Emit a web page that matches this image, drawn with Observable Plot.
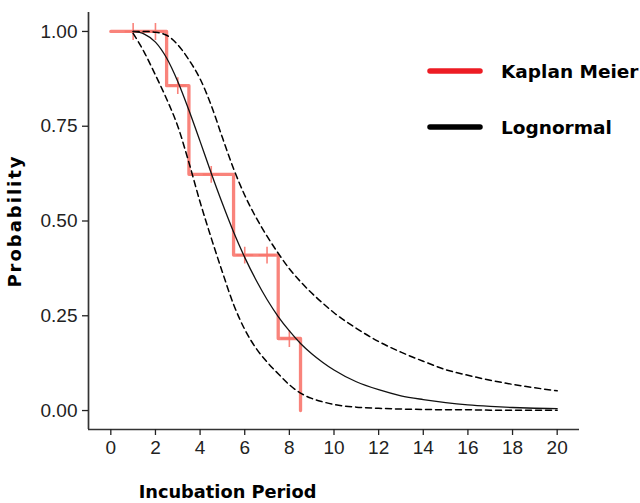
<!DOCTYPE html>
<html><head><meta charset="utf-8">
<script src="https://cdn.jsdelivr.net/npm/d3@7"></script>
<script src="https://cdn.jsdelivr.net/npm/@observablehq/plot@0.6"></script>
<style>
body{margin:0;background:#fff;}
#wrap{position:relative;width:640px;height:503px;}
#legend{position:absolute;left:0;top:0;pointer-events:none;}
.ylab text{letter-spacing:2px;}
</style></head><body><div id="wrap"></div>
<script>
// Kaplan–Meier estimate
const kmTime = [0, 2.5, 3.5, 5.5, 7.5, 8.5];
const kmSurv = [1, 0.857, 0.623, 0.41, 0.19, 0];
// censoring marks
const censorTime = [1, 2, 3, 4.5, 6, 7, 8];
const censorSurv = [1, 1, 0.857, 0.623, 0.41, 0.41, 0.19];
// Lognormal fit with confidence band
const fitTime  = [1, 1.5, 2, 2.5, 3, 3.5, 4, 4.5, 5, 5.5, 6, 6.5, 7, 7.5, 8, 8.5, 9, 9.5, 10, 11, 12, 13, 14, 15, 16, 17, 18, 19, 20];
const fitEst   = [1.000, 0.993, 0.972, 0.930, 0.868, 0.792, 0.710, 0.626, 0.546, 0.471, 0.404, 0.345, 0.293, 0.248, 0.210, 0.177, 0.150, 0.127, 0.107, 0.076, 0.055, 0.039, 0.029, 0.021, 0.015, 0.011, 0.008, 0.006, 0.005];
const fitUpper = [1.000, 1.000, 0.998, 0.990, 0.965, 0.925, 0.875, 0.805, 0.720, 0.638, 0.568, 0.510, 0.460, 0.415, 0.374, 0.340, 0.310, 0.283, 0.258, 0.217, 0.182, 0.154, 0.130, 0.108, 0.093, 0.080, 0.069, 0.060, 0.052];
const fitLower = [0.995, 0.945, 0.885, 0.822, 0.750, 0.654, 0.550, 0.455, 0.365, 0.280, 0.214, 0.165, 0.128, 0.097, 0.068, 0.046, 0.032, 0.023, 0.016, 0.009, 0.006, 0.004, 0.003, 0.002, 0.002, 0.001, 0.001, 0.001, 0.001];
// axes
const xTicks = [0, 2, 4, 6, 8, 10, 12, 14, 16, 18, 20];
const yTicks = [0, 0.25, 0.5, 0.75, 1];
const xDomain = [-1, 21];
const yDomain = [-0.05, 1.05];
const xLabel = "Incubation Period";
const yLabel = "Probability";
const legendLabels = ["Kaplan Meier", "Lognormal"];
const legendColors = ["#ED1C24", "#000000"];

const km = kmTime.map((t, i) => ({t, s: kmSurv[i]}));
const censor = censorTime.map((t, i) => ({t, s: censorSurv[i]}));
const fit = fitTime.map((t, i) => ({t, est: fitEst[i], upper: fitUpper[i], lower: fitLower[i]}));

const boldFont = "'DejaVu Sans', Verdana, sans-serif";
const kmColor = "#F8766D";

const chart = Plot.plot({
  width: 640, height: 503,
  marginTop: 12, marginBottom: 74, marginLeft: 88, marginRight: 61,
  style: {fontFamily: "'Liberation Sans', Arial, sans-serif", fontSize: "19px", background: "#fff", color: "#222", overflow: "visible"},
  x: {domain: xDomain},
  y: {domain: yDomain},
  marks: [
    Plot.line(km, {x: "t", y: "s", curve: "step-after", stroke: kmColor, strokeWidth: 3.3, strokeOpacity: 0.9}),
    Plot.dot(censor, {x: "t", y: "s", symbol: "plus", r: 5.5, stroke: kmColor, strokeWidth: 1.6, strokeOpacity: 0.9}),
    Plot.line(fit, {x: "t", y: "upper", curve: "monotone-x", stroke: "#000", strokeWidth: 1.5, strokeDasharray: "6,4"}),
    Plot.line(fit, {x: "t", y: "lower", curve: "monotone-x", stroke: "#000", strokeWidth: 1.5, strokeDasharray: "6,4"}),
    Plot.line(fit, {x: "t", y: "est", curve: "monotone-x", stroke: "#111", strokeWidth: 1.3}),
    Plot.ruleX([xDomain[0]], {stroke: "#333", strokeWidth: 1.7}),
    Plot.ruleY([yDomain[0]], {stroke: "#333", strokeWidth: 1.7}),
    Plot.axisX(xTicks, {tickSize: 6, tickPadding: 5, label: null, color: "#222", strokeWidth: 1.3, fontSize: 19}),
    Plot.axisY(yTicks, {tickSize: 6, tickPadding: 5, label: null, color: "#222", strokeWidth: 1.3, fontSize: 19, tickFormat: d3.format(".2f")}),
    Plot.text([xLabel], {text: d => d, frameAnchor: "bottom-left", dx: 139, dy: 68, textAnchor: "middle", fontWeight: "bold", fontSize: 17.8, fontFamily: boldFont, fill: "#000"}),
    Plot.text([yLabel], {text: d => d, frameAnchor: "left", dx: -73, rotate: -90, textAnchor: "middle", fontWeight: "bold", fontSize: 18, fontFamily: boldFont, fill: "#000", className: "ylab"})
  ]
});
const wrap = document.getElementById("wrap");
wrap.appendChild(chart);

const leg = d3.select(wrap).append("svg").attr("id", "legend").attr("width", 640).attr("height", 503);
const legY = [71, 127];
legendLabels.forEach((lab, i) => {
  leg.append("line").attr("x1", 430).attr("x2", 480).attr("y1", legY[i]).attr("y2", legY[i])
    .attr("stroke", legendColors[i]).attr("stroke-width", 5.5).attr("stroke-linecap", "round");
  leg.append("text").attr("x", 501).attr("y", legY[i]).attr("dy", "0.36em")
    .attr("font-family", boldFont).attr("font-weight", "bold").attr("font-size", 18.5).attr("fill", "#000").text(lab);
});
</script></body></html>
